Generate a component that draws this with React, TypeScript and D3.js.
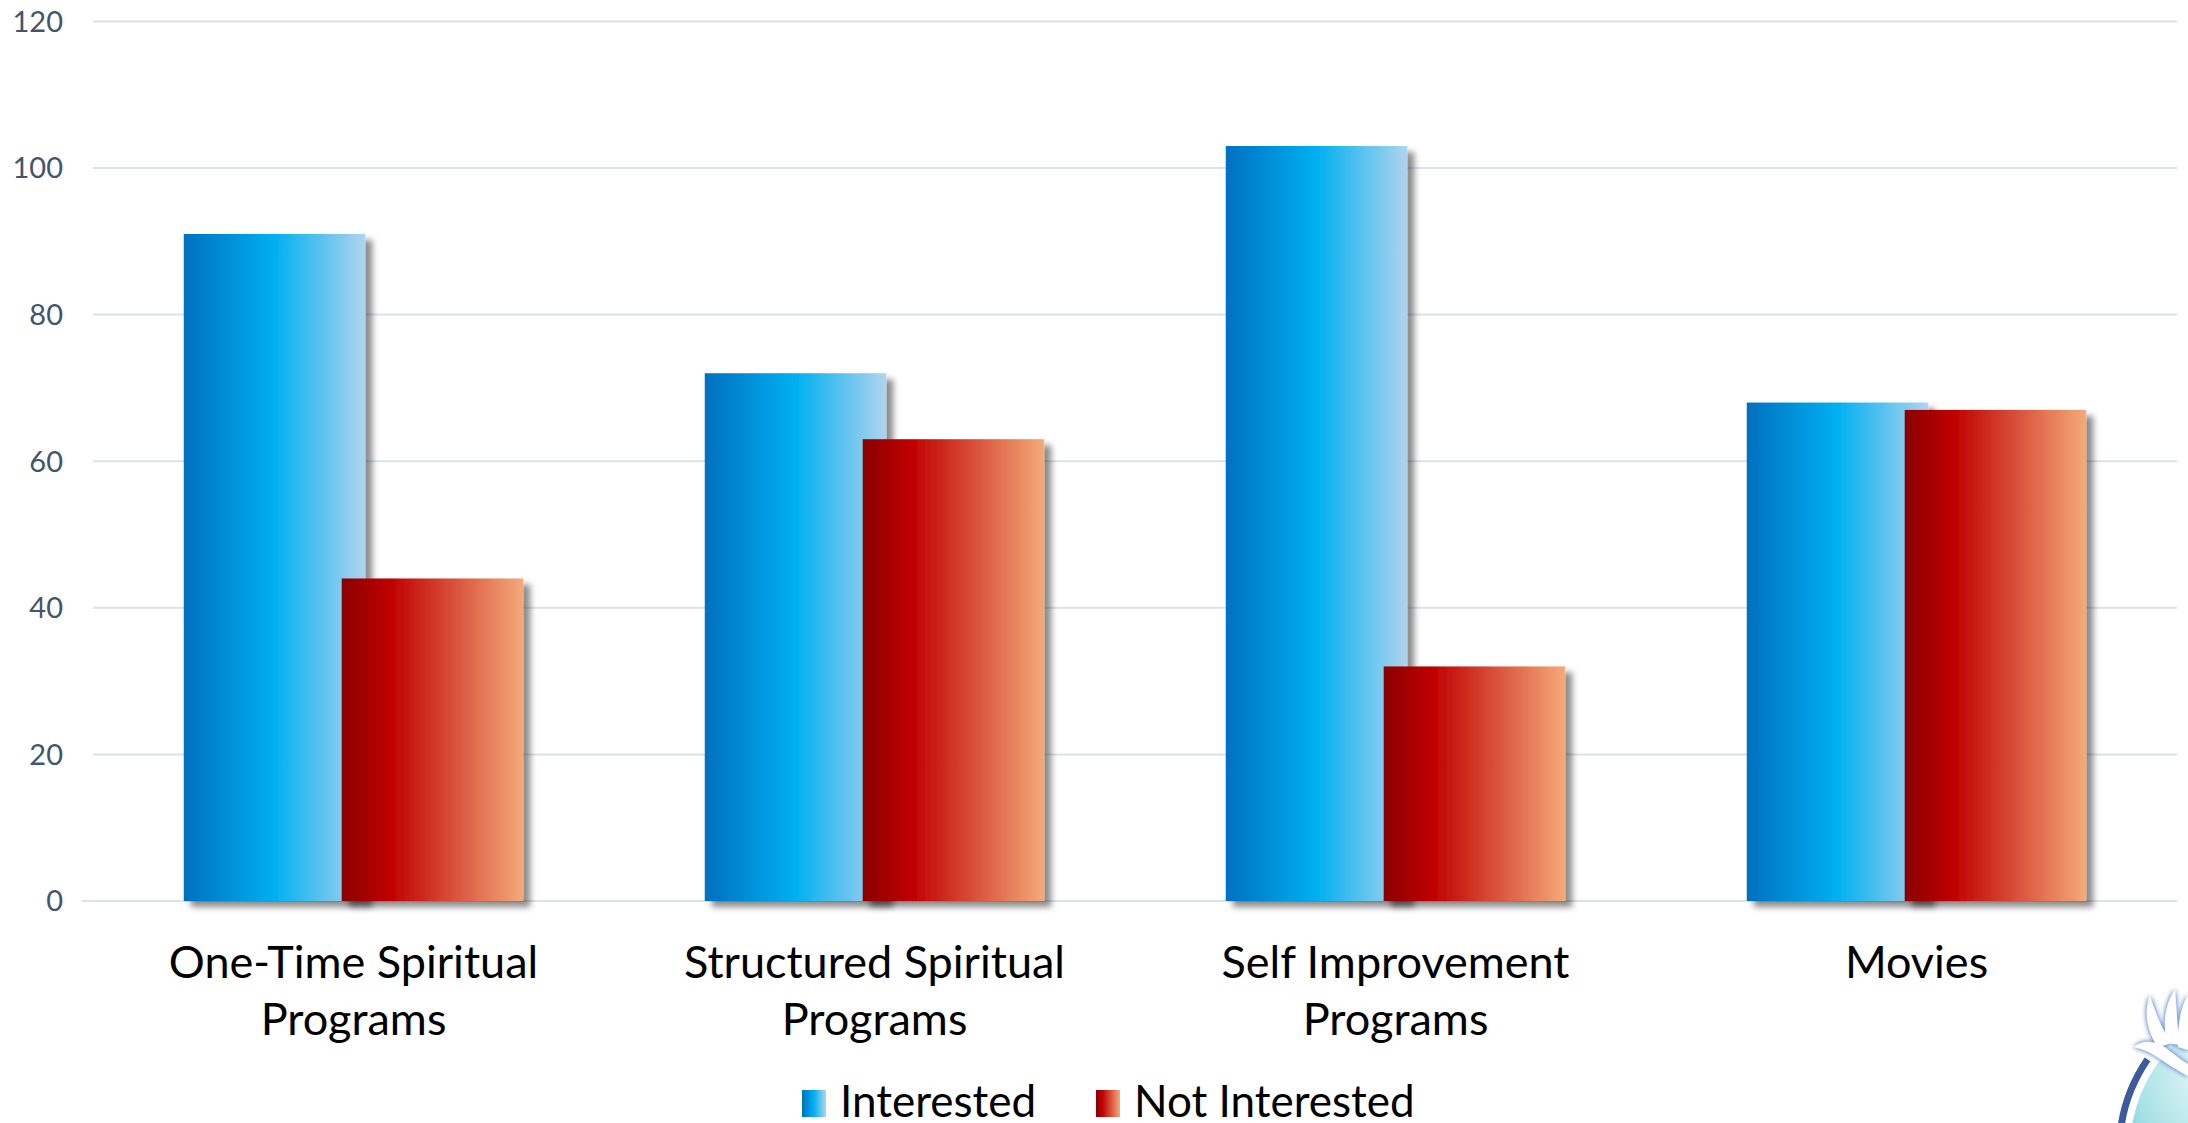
import { useEffect } from 'react';
import * as d3 from 'd3';

const categories = ['One-Time Spiritual Programs', 'Structured Spiritual Programs', 'Self Improvement Programs', 'Movies'];
const categoryLines = [
  ['One-Time Spiritual', 'Programs'],
  ['Structured Spiritual', 'Programs'],
  ['Self Improvement', 'Programs'],
  ['Movies'],
];
const interested = [91, 72, 103, 68];
const notInterested = [44, 63, 32, 67];
const yTicks = [0, 20, 40, 60, 80, 100, 120];
const seriesNames = ['Interested', 'Not Interested'];

const W = 2188;
const H = 1123;
const labelFont = 'Lato, sans-serif';

export default function App() {
  useEffect(() => {
    document.body.style.margin = '0';
  }, []);

  const x = d3.scaleBand<string>().domain(categories).range([93, 2177]).padding(0);
  const y = d3.scaleLinear().domain([0, 120]).range([901, 21.4]);

  // excel-like: gap width 100%, overlap 13%
  const barW = x.bandwidth() / 2.87;
  const step = barW * 0.87;
  const groupW = barW + step;

  const series = [
    { name: seriesNames[0], values: interested, fill: 'url(#gBlue)' },
    { name: seriesNames[1], values: notInterested, fill: 'url(#gRed)' },
  ];

  // logo ring
  const ring = d3.arc()({ innerRadius: 157, outerRadius: 164, startAngle: -Math.PI / 2 - 0.05, endAngle: -Math.PI / 2 + 0.6 }) ?? '';

  return (
    <svg width={W} height={H} style={{ display: 'block', background: '#fff' }}>
      <defs>
        <linearGradient id="gBlue" x1="0" x2="1" y1="0" y2="0">
          <stop offset="0" stopColor="#0070c0" />
          <stop offset="0.5" stopColor="#00b0f0" />
          <stop offset="1" stopColor="#b0d4ee" />
        </linearGradient>
        <linearGradient id="gRed" x1="0" x2="1" y1="0" y2="0">
          <stop offset="0" stopColor="#8a0000" />
          <stop offset="0.27" stopColor="#c00000" />
          <stop offset="1" stopColor="#f4aa7a" />
        </linearGradient>
        <filter id="shadow" x="-10%" y="-10%" width="130%" height="130%">
          <feDropShadow dx="7" dy="6" stdDeviation="3" floodColor="#000" floodOpacity="0.45" />
        </filter>
        <radialGradient id="gLogo" cx="0.3" cy="0.25" r="0.8">
          <stop offset="0" stopColor="#f2fbfb" />
          <stop offset="0.35" stopColor="#a8e2e6" />
          <stop offset="0.7" stopColor="#3cb8d4" />
          <stop offset="1" stopColor="#1a86bd" />
        </radialGradient>
        <filter id="glow" x="-30%" y="-30%" width="160%" height="160%">
          <feGaussianBlur in="SourceAlpha" stdDeviation="2.5" result="b" />
          <feFlood floodColor="#6d8fd0" floodOpacity="0.9" />
          <feComposite in2="b" operator="in" result="g" />
          <feMerge>
            <feMergeNode in="g" />
            <feMergeNode in="g" />
            <feMergeNode in="SourceGraphic" />
          </feMerge>
        </filter>
      </defs>

      {/* gridlines */}
      {yTicks.map(t => (
        <g key={t}>
          <line x1={t === 0 ? 82 : 93} x2={2177} y1={y(t)} y2={y(t)} stroke="#dde2ea" strokeWidth={2} />
          <text x={63} y={y(t)} dy="0.36em" textAnchor="end" fontFamily="Lato, sans-serif" fontSize={29} fill="#44546a">
            {t}
          </text>
        </g>
      ))}

      {/* bars */}
      {series.map((s, si) => (
        <g key={s.name} filter="url(#shadow)">
          {categories.map((c, i) => {
            const x0 = (x(c) ?? 0) + (x.bandwidth() - groupW) / 2 + si * step;
            return (
              <rect key={c} x={x0} y={y(s.values[i])} width={barW} height={y(0) - y(s.values[i])} fill={s.fill} />
            );
          })}
        </g>
      ))}

      {/* category labels */}
      {categories.map((c, i) => (
        <text key={c} x={(x(c) ?? 0) + x.bandwidth() / 2} y={978} textAnchor="middle" fontFamily={labelFont} fontSize={45} fill="#000">
          {categoryLines[i].map((ln, j) => (
            <tspan key={j} x={(x(c) ?? 0) + x.bandwidth() / 2} dy={j === 0 ? 0 : 57}>
              {ln}
            </tspan>
          ))}
        </text>
      ))}

      {/* legend */}
      {series.map((s, si) => {
        const lx = si === 0 ? 802 : 1096;
        return (
          <g key={s.name}>
            <rect x={lx} y={1090} width={24} height={27} fill={s.fill} />
            <text x={lx + 38} y={1117} fontFamily={labelFont} fontSize={44} fill="#000">
              {s.name}
            </text>
          </g>
        );
      })}

      {/* logo, bottom right corner */}
      <g>
        <circle cx={2280} cy={1150} r={150} fill="url(#gLogo)" />
        <path d={ring} transform="translate(2280,1150)" fill="#3b5b9c" />
        <g filter="url(#glow)" fill="#fff">
          {/* body */}
          <path d="M2134,1047 C2144,1039 2156,1041 2166,1048 C2176,1056 2184,1062 2188,1064 L2188,1076 C2178,1071 2166,1063 2157,1057 C2149,1051 2141,1049 2134,1047 Z" />
          {/* wings */}
          <path d="M2158,1047 C2146,1030 2144,1010 2150,996 C2156,1014 2162,1030 2172,1043 Z" />
          <path d="M2167,1043 C2162,1022 2166,1002 2175,990 C2177,1010 2177,1028 2180,1045 Z" />
          <path d="M2178,1047 C2177,1026 2181,1006 2188,995 L2188,1050 Z" />
        </g>
      </g>
    </svg>
  );
}
